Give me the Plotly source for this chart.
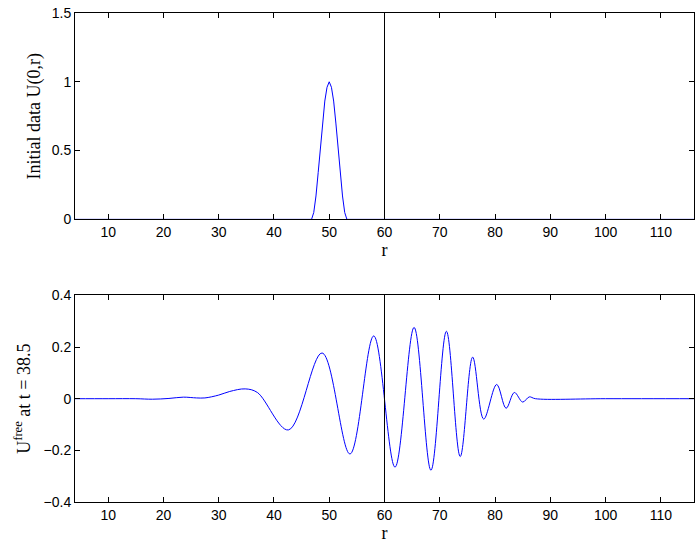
import plotly.graph_objects as go

# ---- data ----
r_init = [4, 46.8, 47.2, 47.6, 48.0, 48.4, 48.8, 49.2, 49.6, 50.0,
          50.4, 50.8, 51.2, 51.6, 52.0, 52.4, 52.8, 53.2, 116]
u_init = [0, 0, 0.05, 0.17, 0.34, 0.52, 0.70, 0.86, 0.96, 1.0,
          0.96, 0.86, 0.70, 0.52, 0.34, 0.17, 0.05, 0, 0]

r_free = [4, 10, 15, 18, 21, 23.6, 26, 27.5, 30, 32, 34.8, 37, 42.6,
          48.7, 53.75, 58.05, 61.9, 65.35, 68.4, 71.2, 73.7, 75.95, 77.95,
          80.3, 82.0, 83.5, 85.0, 86.2, 87.3, 100, 116]
u_free = [0, 0, 0, -0.002, 0.001, 0.006, 0.003, 0.003, 0.014, 0.028, 0.038, 0.024, -0.121,
          0.177, -0.214, 0.243, -0.265, 0.276, -0.277, 0.261, -0.224, 0.161, -0.079,
          0.055, -0.037, 0.024, -0.013, 0.007, 0, 0, 0]

x_ticks = [10, 20, 30, 40, 50, 60, 70, 80, 90, 100, 110]
y1_ticks = [0, 0.5, 1, 1.5]
y1_labels = ["0", "0.5", "1", "1.5"]
y2_ticks = [-0.4, -0.2, 0, 0.2, 0.4]
y2_labels = ["\u22120.4", "\u22120.2", "0", "0.2", "0.4"]
marker_r = 60
x_range = [4, 116]

fig = go.Figure()
fig.add_trace(go.Scatter(x=r_init, y=u_init, mode="lines",
                         line=dict(color="#0000ff", width=1),
                         xaxis="x", yaxis="y", showlegend=False))
fig.add_trace(go.Scatter(x=r_free, y=u_free, mode="lines",
                         line=dict(color="#0000ff", width=1, shape="spline", smoothing=1),
                         xaxis="x2", yaxis="y2", showlegend=False))

for xr, yr in (("x", "y"), ("x2", "y2")):
    fig.add_shape(type="line", xref=xr, yref=f"{yr} domain", x0=marker_r, x1=marker_r,
                  y0=0, y1=1, line=dict(color="black", width=1))

tickfont = dict(family="Liberation Sans, Arial, sans-serif", size=14, color="black")
titlefont = dict(family="Liberation Serif, Times New Roman, serif", size=18, color="black")

common_x = dict(range=x_range, tickvals=x_ticks, ticks="inside", ticklen=5,
                tickcolor="black", showline=True, linecolor="black", linewidth=1,
                mirror="ticks", showgrid=False, zeroline=False, tickfont=tickfont)
common_y = dict(ticks="inside", ticklen=5, tickcolor="black", showline=True,
                linecolor="black", linewidth=1, mirror="ticks", showgrid=False,
                zeroline=False, tickfont=tickfont)

fig.update_layout(
    width=700, height=553,
    margin=dict(l=75, r=6, t=13, b=51),
    plot_bgcolor="white", paper_bgcolor="white",
    xaxis=dict(domain=[0, 1], anchor="y",
               title=dict(text="r", font=titlefont, standoff=3), **common_x),
    yaxis=dict(domain=[0.578, 1.0], anchor="x", range=[0, 1.5],
               tickvals=y1_ticks, ticktext=y1_labels,
               title=dict(text="Initial data U(0,r)", font=titlefont, standoff=6),
               **common_y),
    xaxis2=dict(domain=[0, 1], anchor="y2",
                title=dict(text="r", font=titlefont, standoff=3), **common_x),
    yaxis2=dict(domain=[0, 0.4225], anchor="x2", range=[-0.4, 0.4],
                tickvals=y2_ticks, ticktext=y2_labels,
                title=dict(text="U<sup>free</sup> at t = 38.5", font=titlefont, standoff=8),
                **common_y),
)

fig.write_html("out.html", config={"displayModeBar": False},
               post_script="document.body.style.margin='0';document.body.style.padding='0';")
